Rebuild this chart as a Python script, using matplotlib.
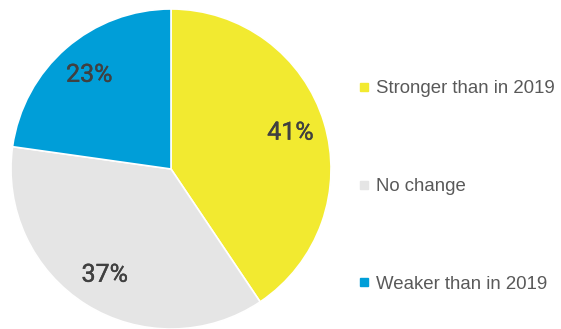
import matplotlib.pyplot as plt
import matplotlib.patheffects as pe
from matplotlib.lines import Line2D

categories = ["Stronger than in 2019", "No change", "Weaker than in 2019"]
values = [41, 37, 23]
colors = ["#F2EA30", "#E5E5E5", "#009ED8"]

fig = plt.figure(figsize=(5.61, 3.29), dpi=100)
ax = fig.add_axes([11 / 561, 0, 320 / 561, 320 / 329])

total = sum(values)
wedges, texts, autotexts = ax.pie(
    values, colors=colors, startangle=90, counterclock=False,
    autopct=lambda p: "%d%%" % round(p * total / 100.0),
    pctdistance=0.78,
    wedgeprops=dict(edgecolor="white", linewidth=1.2),
    textprops=dict(fontsize=18, color="#404040", family="Roboto"),
)
# slightly heavier strokes for the percentage labels
for t in autotexts:
    t.set_path_effects([pe.withStroke(linewidth=0.3, foreground="#404040")])
ax.set_xlim(-1, 1)
ax.set_ylim(-1, 1)

handles = [Line2D([], [], marker="s", linestyle="none", markersize=5.5,
                  markerfacecolor=c, markeredgecolor=c) for c in colors]
leg = fig.legend(handles, categories, loc="center left", bbox_to_anchor=(0.603, 0.433),
                 frameon=False, labelspacing=4.33, handletextpad=0.1, handlelength=1.0,
                 prop=dict(family="Liberation Sans", size=13.4))
for t in leg.get_texts():
    t.set_color("#595959")

fig.savefig("out.png", dpi=100)
